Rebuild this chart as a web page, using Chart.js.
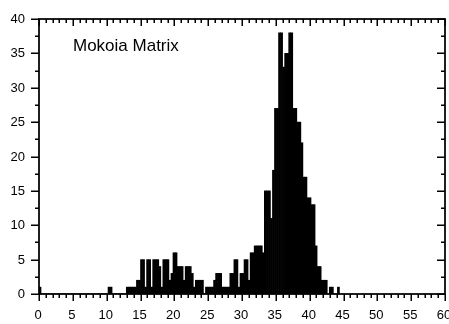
<!DOCTYPE html>
<html>
<head>
<meta charset="utf-8">
<script src="https://cdn.jsdelivr.net/npm/chart.js@4/dist/chart.umd.min.js"></script>
<style>
  html, body { margin: 0; padding: 0; background: #fff; }
  #wrap { width: 449px; height: 324px; }
</style>
</head>
<body>
<div id="wrap"><canvas id="chart" width="449" height="324"></canvas></div>
<script>
// Histogram bins: left edge of the first bin and the common bin width (x units)
const BIN_START = 0;
const BIN_WIDTH = 0.3;

// Counts per bin, ten bins per row
const counts = [
  1, 0, 0, 0, 0, 0, 0, 0, 0, 0,
  0, 0, 0, 0, 0, 0, 0, 0, 0, 0,
  0, 0, 0, 0, 0, 0, 0, 0, 0, 0,
  0, 0, 0, 0, 1, 1, 0, 0, 0, 0,
  0, 0, 0, 1, 1, 1, 1, 1, 2, 2,
  5, 5, 1, 5, 5, 1, 5, 5, 5, 4,
  1, 5, 5, 5, 2, 3, 6, 6, 4, 4,
  4, 2, 4, 4, 4, 3, 1, 2, 2, 2,
  2, 0, 1, 1, 1, 1, 2, 3, 3, 3,
  1, 1, 1, 1, 3, 3, 5, 5, 1, 3,
  3, 5, 5, 2, 6, 6, 7, 7, 7, 7,
  6, 15, 15, 15, 11, 18, 27, 27, 38, 38,
  33, 35, 35, 38, 38, 27, 27, 25, 25, 22,
  17, 17, 14, 14, 13, 13, 7, 4, 4, 2,
  2, 2, 0, 1, 1, 0, 0, 1
];

// Axis ranges and tick steps
const X_MIN = 0, X_MAX = 60, X_MAJOR = 5, X_MINOR = 1;
const Y_MIN = 0, Y_MAX = 40, Y_MAJOR = 5, Y_MINOR = 2.5;

const panelLabel = 'Mokoia Matrix';

const FONT = '"Liberation Sans", Arial, sans-serif';

// Frame, ticks on all four sides, tick labels and the panel label
const framePlugin = {
  id: 'frame',
  afterDraw(chart) {
    const { ctx, chartArea: a, scales: { x, y } } = chart;
    ctx.save();
    ctx.strokeStyle = '#000';
    ctx.fillStyle = '#000';

    // tick marks
    ctx.lineWidth = 1.5;
    ctx.beginPath();
    for (let v = X_MIN; v <= X_MAX + 1e-9; v += X_MINOR) {
      const px = Math.round(x.getPixelForValue(v)) + 0.25;
      const major = Math.abs(v / X_MAJOR - Math.round(v / X_MAJOR)) < 1e-6;
      const len = major ? 7 : 4;
      ctx.moveTo(px, a.bottom); ctx.lineTo(px, a.bottom + len);   // bottom, outward
      ctx.moveTo(px, a.top); ctx.lineTo(px, a.top + len);         // top, inward
    }
    for (let v = Y_MIN; v <= Y_MAX + 1e-9; v += Y_MINOR) {
      const py = Math.round(y.getPixelForValue(v)) + 0.25;
      const major = Math.abs(v / Y_MAJOR - Math.round(v / Y_MAJOR)) < 1e-6;
      const len = major ? 8 : 4;
      ctx.moveTo(a.left, py); ctx.lineTo(a.left - len, py);       // left, outward
      ctx.moveTo(a.right, py); ctx.lineTo(a.right - len, py);     // right, inward
    }
    ctx.stroke();

    // frame
    ctx.lineWidth = 1.75;
    ctx.strokeRect(a.left, a.top, a.right - a.left, a.bottom - a.top);

    // tick labels
    ctx.font = '13px ' + FONT;
    ctx.textAlign = 'center';
    ctx.textBaseline = 'middle';
    for (let v = X_MIN; v <= X_MAX; v += X_MAJOR) {
      ctx.fillText(String(v), x.getPixelForValue(v) - 1, 315);
    }
    ctx.textAlign = 'right';
    for (let v = Y_MIN; v <= Y_MAX; v += Y_MAJOR) {
      ctx.fillText(String(v), 25, y.getPixelForValue(v) + 0.5);
    }

    // panel label
    ctx.font = '17px ' + FONT;
    ctx.textAlign = 'left';
    ctx.textBaseline = 'alphabetic';
    ctx.fillText(panelLabel, 73, 51);
    ctx.restore();
  }
};

const points = counts.map((c, i) => ({ x: BIN_START + (i + 0.5) * BIN_WIDTH, y: c }));

new Chart(document.getElementById('chart'), {
  type: 'bar',
  data: {
    datasets: [{
      data: points,
      backgroundColor: '#000',
      borderWidth: 0,
      barPercentage: 1,
      categoryPercentage: 1
    }]
  },
  options: {
    responsive: false,
    animation: false,
    devicePixelRatio: 1,
    layout: { padding: { left: 39, top: 19, right: 4, bottom: 30 } },
    plugins: { legend: { display: false }, tooltip: { enabled: false } },
    scales: {
      x: { type: 'linear', min: X_MIN, max: X_MAX, offset: false, display: false },
      y: { type: 'linear', min: Y_MIN, max: Y_MAX, display: false }
    }
  },
  plugins: [framePlugin]
});
</script>
</body>
</html>
